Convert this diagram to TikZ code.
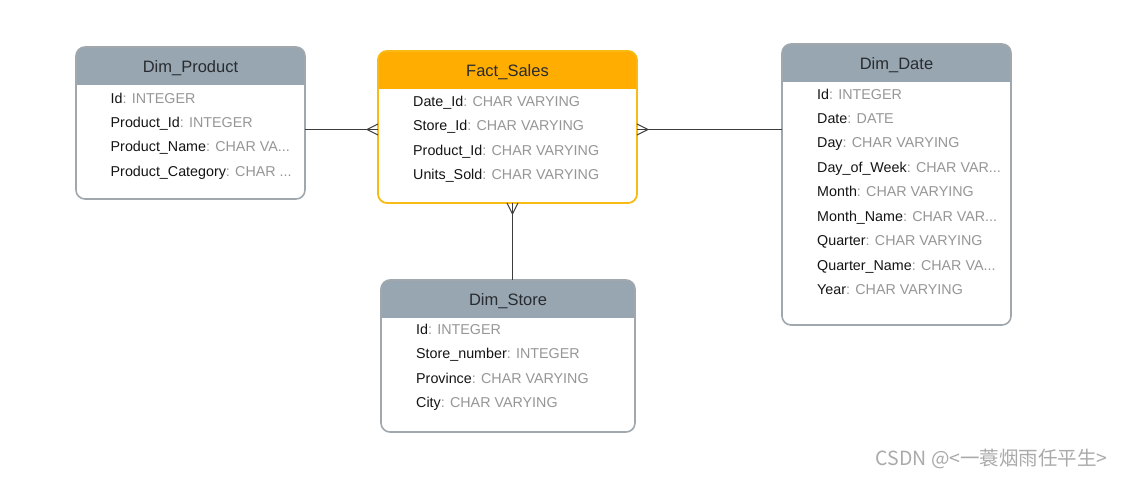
\documentclass[tikz,border=0pt]{standalone}
\usepackage{fontspec}
\setmainfont{Liberation Sans}
\newfontfamily\cjkfont{Noto Sans CJK SC}
\definecolor{hdrgray}{RGB}{152,166,177}
\definecolor{bordergray}{RGB}{160,168,174}
\definecolor{hdrorange}{RGB}{255,173,0}
\definecolor{borderorange}{RGB}{248,186,20}
\definecolor{typegray}{RGB}{150,150,150}
\definecolor{titletext}{RGB}{40,44,48}
\definecolor{rowtext}{RGB}{20,20,20}
\definecolor{conncol}{RGB}{60,60,60}
\definecolor{wmgray}{RGB}{170,170,170}
\tikzset{
  tbl/.style={rectangle, inner sep=0pt, outer sep=0pt},
  tblborder/.style={draw=bordergray, line width=1.6pt, rounded corners=9pt},
  factborder/.style={draw=borderorange, line width=1.8pt, rounded corners=9pt},
  ttl/.style={font=\fontsize{16.5}{19}\selectfont, text=titletext, inner sep=0pt, text height=11.8pt, text depth=0pt},
  row/.style={font=\fontsize{14.3}{16}\selectfont, text=rowtext, anchor=west, inner sep=0pt, text height=10.2pt, text depth=0pt},
  conn/.style={draw=conncol, line width=1pt},
}
\newcommand{\ty}[1]{\textcolor{typegray}{#1}}
\begin{document}
\begin{tikzpicture}[x=1pt,y=-1pt]
\useasboundingbox[fill=white] (0,0) rectangle (1123,477);

% ---------- Dim_Product ----------
\node[tbl, minimum width=229pt, minimum height=152pt] (prod) at (190.5,123) {};
\begin{scope}
\clip[rounded corners=9pt] (prod.south west) rectangle (prod.north east);
\fill[hdrgray] (prod.north west) rectangle ([yshift=-38pt]prod.north east);
\end{scope}
\draw[tblborder] (prod.south west) rectangle (prod.north east);
\node[ttl] (prodT) at (190.5,67) {Dim\_Product};
\node[row] (p1) at (110.5,98) {Id\ty{: INTEGER}};
\node[row] (p2) at (110.5,122) {Product\_Id\ty{: INTEGER}};
\node[row] (p3) at (110.5,146.5) {Product\_Name\ty{: CHAR VA...}};
\node[row] (p4) at (110.5,171) {Product\_Category\ty{: CHAR ...}};

% ---------- Fact_Sales ----------
\node[tbl, minimum width=259pt, minimum height=152pt] (fact) at (507.5,127) {};
\begin{scope}
\clip[rounded corners=9pt] (fact.south west) rectangle (fact.north east);
\fill[hdrorange] (fact.north west) rectangle ([yshift=-38pt]fact.north east);
\end{scope}
\draw[factborder] (fact.south west) rectangle (fact.north east);
\node[ttl] (factT) at (507.5,71) {Fact\_Sales};
\node[row] (f1) at (413,101) {Date\_Id\ty{: CHAR VARYING}};
\node[row] (f2) at (413,125.5) {Store\_Id\ty{: CHAR VARYING}};
\node[row] (f3) at (413,150) {Product\_Id\ty{: CHAR VARYING}};
\node[row] (f4) at (413,174) {Units\_Sold\ty{: CHAR VARYING}};

% ---------- Dim_Date ----------
\node[tbl, minimum width=229pt, minimum height=281pt] (date) at (896.5,184.5) {};
\begin{scope}
\clip[rounded corners=9pt] (date.south west) rectangle (date.north east);
\fill[hdrgray] (date.north west) rectangle ([yshift=-38pt]date.north east);
\end{scope}
\draw[tblborder] (date.south west) rectangle (date.north east);
\node[ttl] (dateT) at (896.5,64) {Dim\_Date};
\node[row] (d1) at (817,94) {Id\ty{: INTEGER}};
\node[row] (d2) at (817,118.5) {Date\ty{: DATE}};
\node[row] (d3) at (817,142.5) {Day\ty{: CHAR VARYING}};
\node[row] (d4) at (817,167) {Day\_of\_Week\ty{: CHAR VAR...}};
\node[row] (d5) at (817,191.5) {Month\ty{: CHAR VARYING}};
\node[row] (d6) at (817,216) {Month\_Name\ty{: CHAR VAR...}};
\node[row] (d7) at (817,240.5) {Quarter\ty{: CHAR VARYING}};
\node[row] (d8) at (817,265) {Quarter\_Name\ty{: CHAR VA...}};
\node[row] (d9) at (817,289.5) {Year\ty{: CHAR VARYING}};

% ---------- Dim_Store ----------
\node[tbl, minimum width=254pt, minimum height=152pt] (store) at (508,356) {};
\begin{scope}
\clip[rounded corners=9pt] (store.south west) rectangle (store.north east);
\fill[hdrgray] (store.north west) rectangle ([yshift=-38pt]store.north east);
\end{scope}
\draw[tblborder] (store.south west) rectangle (store.north east);
\node[ttl] (storeT) at (508,299.5) {Dim\_Store};
\node[row] (s1) at (416,329) {Id\ty{: INTEGER}};
\node[row] (s2) at (416,353.5) {Store\_number\ty{: INTEGER}};
\node[row] (s3) at (416,378) {Province\ty{: CHAR VARYING}};
\node[row] (s4) at (416,402.5) {City\ty{: CHAR VARYING}};

% ---------- Connectors ----------
\coordinate (pe) at (prod.east |- 0,129.5);
\coordinate (fw) at (fact.west |- 0,129.5);
\coordinate (fe) at (fact.east |- 0,129.5);
\coordinate (dw) at (date.west |- 0,129.5);
\coordinate (fs) at (fact.south -| 512.5,0);
\coordinate (sn) at (store.north -| 512.5,0);
\draw[conn] (pe) -- (fw);
\draw[conn] ([yshift=5.5pt]fw) -- ([xshift=-11pt]fw) -- ([yshift=-5.5pt]fw);
\draw[conn] (fe) -- (dw);
\draw[conn] ([yshift=5.5pt]fe) -- ([xshift=11pt]fe) -- ([yshift=-5.5pt]fe);
\draw[conn] (fs) -- (sn);
\draw[conn] ([xshift=-5.5pt]fs) -- ([yshift=-11pt]fs) -- ([xshift=5.5pt]fs);

% ---------- Watermark ----------
\node[anchor=east, inner sep=0pt, text=wmgray, font=\cjkfont\fontsize{19.5}{21}\selectfont] (wm) at (1108,459) {CSDN @<一蓑烟雨任平生>};
\end{tikzpicture}
\end{document}
